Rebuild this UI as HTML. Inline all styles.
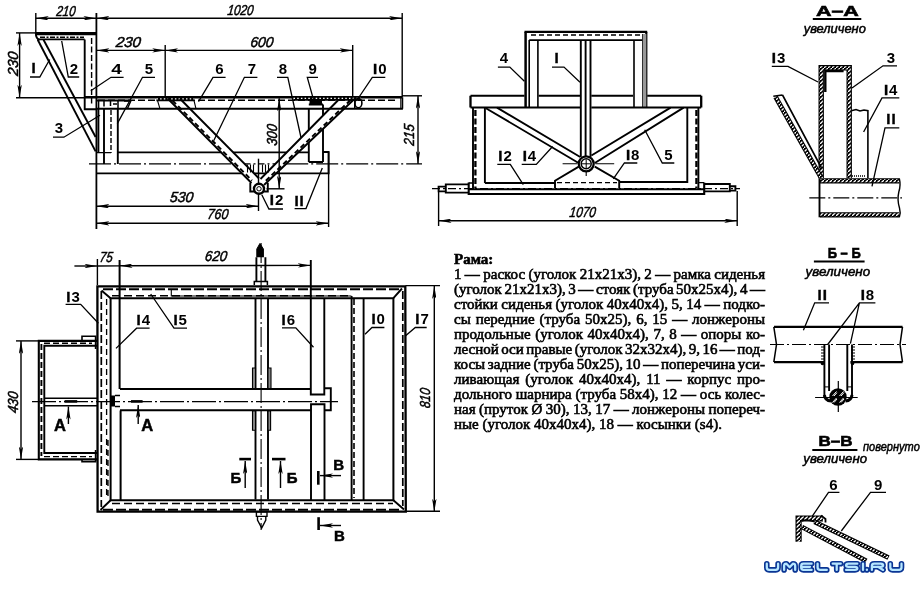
<!DOCTYPE html>
<html><head><meta charset="utf-8">
<style>
html,body{margin:0;padding:0;background:#fff;}
body{width:923px;height:595px;overflow:hidden;position:relative;}
svg{position:absolute;left:0;top:0;will-change:transform;}
#txt{will-change:transform;}
.dim{font-family:"Liberation Sans",sans-serif;font-style:italic;font-size:14.5px;stroke:#000;stroke-width:0.5px;}
.it{font-family:"Liberation Sans",sans-serif;font-style:italic;stroke:#000;stroke-width:0.5px;}
.lb{font-family:"Liberation Sans",sans-serif;font-weight:bold;font-size:15px;}
.sec{font-size:16.5px;stroke:#000;stroke-width:0.5px;}
.sec2{font-size:15px;stroke:#000;stroke-width:0.5px;}
.hd{stroke:#000;stroke-width:0.6px;}
.one{font-family:"Liberation Sans",sans-serif;font-weight:bold;letter-spacing:1px;stroke:#000;stroke-width:0.4px;}
#txt{position:absolute;left:454px;top:251.6px;-webkit-text-stroke:0.6px #000;width:311px;font-family:"Liberation Serif",serif;font-size:15px;line-height:15px;color:#000;}
#txt div{white-space:nowrap;}
</style></head><body>
<svg width="923" height="595" viewBox="0 0 923 595">
<defs>
<pattern id="hw" patternUnits="userSpaceOnUse" width="4" height="4"><path d="M-1,5 L5,-1" stroke="#fff" stroke-width="1.3"/></pattern>
<marker id="a" viewBox="0 0 13 4.4" refX="13" refY="2.2" markerWidth="13" markerHeight="4.4" orient="auto-start-reverse" markerUnits="userSpaceOnUse"><path d="M0,0 L13,2.2 L0,4.4 L3,2.2 z"/></marker>
</defs>
<g fill="none" stroke="#000" stroke-linecap="butt">
<g id="side">
<line x1="35.8" y1="18.2" x2="96.4" y2="18.2" stroke-width="1.4" marker-start="url(#a)" marker-end="url(#a)"/>
<line x1="96.4" y1="18.2" x2="402" y2="18.2" stroke-width="1.4" marker-start="url(#a)" marker-end="url(#a)"/>
<line x1="35.8" y1="13" x2="35.8" y2="33" stroke-width="1.4"/>
<line x1="402.2" y1="13" x2="402.2" y2="97" stroke-width="1.4"/>
<line x1="96.4" y1="50.4" x2="165.2" y2="50.4" stroke-width="1.4" marker-start="url(#a)" marker-end="url(#a)"/>
<line x1="165.2" y1="50.4" x2="352.7" y2="50.4" stroke-width="1.4" marker-start="url(#a)" marker-end="url(#a)"/>
<line x1="165.2" y1="45" x2="165.2" y2="97" stroke-width="1.4"/>
<line x1="352.7" y1="45" x2="352.7" y2="97" stroke-width="1.4"/>
<line x1="19.6" y1="33" x2="19.6" y2="97.8" stroke-width="1.4" marker-start="url(#a)" marker-end="url(#a)"/>
<line x1="16" y1="32.9" x2="36" y2="32.9" stroke-width="1.4"/>
<line x1="16" y1="97.8" x2="85" y2="97.8" stroke-width="1.4"/>
<line x1="402" y1="95.8" x2="422" y2="95.8" stroke-width="1.4"/>
<line x1="418" y1="95.8" x2="418" y2="163.9" stroke-width="1.4" marker-start="url(#a)" marker-end="url(#a)"/>
<line x1="279.2" y1="98.3" x2="279.2" y2="188.8" stroke-width="1.4" marker-start="url(#a)" marker-end="url(#a)"/>
<line x1="266.5" y1="188.8" x2="284.5" y2="188.8" stroke-width="1.4"/>
<line x1="96.4" y1="206.2" x2="258.5" y2="206.2" stroke-width="1.4" marker-start="url(#a)" marker-end="url(#a)"/>
<line x1="258.5" y1="158.7" x2="258.5" y2="211" stroke-width="1.4"/>
<line x1="96.4" y1="223.3" x2="328.6" y2="223.3" stroke-width="1.4" marker-start="url(#a)" marker-end="url(#a)"/>
<line x1="328.6" y1="152" x2="328.6" y2="227" stroke-width="1.4"/>
<line x1="89" y1="163.9" x2="232.6" y2="163.9" stroke-width="1.1" stroke-dasharray="22 3 2 3"/>
<line x1="244.5" y1="163.9" x2="275.4" y2="163.9" stroke-width="1.1" stroke-dasharray="6 3 2 3"/>
<line x1="286.2" y1="163.9" x2="422" y2="163.9" stroke-width="1.1" stroke-dasharray="22 3 2 3"/>
<line x1="96.4" y1="13" x2="96.4" y2="229" stroke-width="1.8"/>
<path d="M35.8,33.6 H96" stroke-width="3.2"/>
<path d="M37.5,39.4 H84.7" stroke-width="1.9"/>
<path d="M40,37.3 H84" stroke-width="1.4" stroke-dasharray="5 1.5 2 1.5"/>
<path d="M35.8,33.1 Q35.8,38.6 39.5,40" stroke-width="1.9"/>
<path d="M84.7,39.4 V109.3 H96" stroke-width="1.9"/>
<path d="M91.6,38 V106" stroke-width="1.4" stroke-dasharray="6 2.5"/>
<path d="M37.7,39.8 L95.6,151.4" stroke-width="1.9"/>
<path d="M43.5,39.8 L95.6,137" stroke-width="1.9"/>
<path d="M84.7,97.3 H402.4" stroke-width="2.4"/>
<path d="M96,108.8 H402.9" stroke-width="1.9"/>
<path d="M98,100.2 H398" stroke-width="1.5" stroke-dasharray="7 3"/>
<path d="M400.9,97.3 V108.8 M402.6,97.3 V108.8" stroke-width="1.3"/>
<path d="M98.4,109 V153 M104,109 V164 M117.8,109 V164" stroke-width="1.9"/>
<path d="M111,110 V153" stroke-width="1.4" stroke-dasharray="5 2"/>
<path d="M96,152.7 H104 M104.5,152.7 H111" stroke-width="1.3"/>
<path d="M117.8,152.4 H221.2 M233.2,152.4 H286.7 M298.3,152.4 H308.8" stroke-width="1.9"/>
<path d="M96.4,173.4 H242 M254,173.4 H266 M276.2,173.4 H328.6 V152 H323" stroke-width="1.9"/>
<path d="M308.8,109 V130 M308.8,142.4 V162 M323,104.5 V115.5 M323,128.9 V162 M308.8,162 H323 M308.8,104.5 H323" stroke-width="1.9"/>
<rect x="309.5" y="98.5" width="12.5" height="6" fill="#000" stroke="none"/>
<path d="M156.4,98.9 H194.1 M293.5,98.4 H361" stroke-width="4.6"/>
<path d="M156.4,98.9 H194.1 M293.5,98.4 H361" stroke="#fff" stroke-width="1.2" stroke-dasharray="1.5 2.2"/>
<path d="M97,100.4 H130" stroke-width="2"/>
<path d="M98.6,100 V108.5 M104,101 V106.5 M110.5,100.5 V106 M113,104 H117 M118,100.5 V108.5 M124,101 H131 M131,100.5 L127.5,108.5" stroke-width="1.5"/>
<path d="M167.7,98.5 L251.5,183 M179.8,98.5 L259,178.5" stroke-width="1.9"/>
<path d="M172.5,100.5 L252,180.5" stroke-width="1.9" stroke-dasharray="5 3"/>
<path d="M338.8,99.5 L260.5,179 M355.2,98.3 L264,185" stroke-width="1.9"/>
<path d="M350.5,100 L264,182.5" stroke-width="1.9" stroke-dasharray="5 3"/>
<path d="M157.5,100.5 L160,108.8 M194,100.5 L196,108.8" stroke-width="1.1"/>
<path d="M247.5,164.5 V172.5 M250.5,164.5 V172.5 M253.5,164.5 V172.5 M262.5,164.5 V172.5 M265.5,164.5 V172.5 M268.5,164.5 V172.5" stroke-width="1.1"/>
<path d="M250.3,182.8 V191.5 H267.8 V182.8" stroke-width="1.9"/>
<circle cx="259" cy="188.8" r="5" fill="#fff" stroke-width="2.4"/>
<circle cx="259" cy="188.8" r="2.2" stroke-width="1"/>
<path d="M354.8,97.7 V108" stroke-width="1.6"/>
<ellipse cx="358.4" cy="103" rx="3.5" ry="4.8" stroke-width="1.6"/>
<path d="M30,77 H39.8 L49.7,59.5" stroke-width="1.3"/>
<path d="M79.2,77 H68.3 L61.7,41" stroke-width="1.3"/>
<path d="M123.6,77.3 H111 L90.8,90.8" stroke-width="1.3"/>
<path d="M155,77.3 H142.5 L117.3,123.6" stroke-width="1.3"/>
<path d="M225.6,77.3 H213 L198.5,101.6" stroke-width="1.3"/>
<path d="M257.4,77.3 H244.4 L213.7,140.7" stroke-width="1.3"/>
<path d="M277,77.3 H287.8 L301,137.5" stroke-width="1.3"/>
<path d="M318,77.3 H307.3 L313.5,99.6" stroke-width="1.3"/>
<path d="M385.3,77.3 H372.3 L356.4,101" stroke-width="1.3"/>
<path d="M53,137.2 H63.9 L100,115.3" stroke-width="1.3"/>
<path d="M283,209 H268.9 L261.8,194.8" stroke-width="1.3"/>
<path d="M294.6,208.6 H306 L322.3,168" stroke-width="1.3"/>
</g>
<g id="front">
<path d="M524.5,31.9 H647.2" stroke-width="2.3"/>
<path d="M531,34.9 H641" stroke-width="1.5" stroke-dasharray="5 3"/>
<path d="M529.2,40.1 H642.2" stroke-width="1.9"/>
<path d="M525.6,31.9 V107.3" stroke-width="2.5"/>
<path d="M529.2,40.1 V107.3 M537.9,40.1 V107.3" stroke-width="1.6"/>
<path d="M634,40.1 V107.3 M643,34 V107.3" stroke-width="1.6"/>
<path d="M646.3,31.9 V107.3" stroke-width="2.2"/>
<rect x="643" y="34" width="3.3" height="73" fill="#999" stroke="none"/>
<path d="M580.8,40.1 V157 M585.6,40.1 V156 M590.5,40.1 V157" stroke-width="1.9"/>
<path d="M470.5,95.8 H524.5 M538.6,95.8 H580 M591.3,95.8 H633 M647.2,95.8 H701.2" stroke-width="2"/>
<path d="M470.5,107.5 H580 M591.3,107.5 H701.2" stroke-width="2"/>
<path d="M470.5,95.8 V107.5 M701.2,95.8 V107.5" stroke-width="2.3"/>
<path d="M473,107.6 V189 M484.9,107.6 V183 M687.3,107.6 V183 M698.4,107.6 V189" stroke-width="1.9"/>
<path d="M475.4,110 V188 M696.4,110 V188" stroke-width="2.3" stroke-dasharray="6 2.5"/>
<path d="M497,107.6 L580.2,157 M485.9,108.2 L578.6,163" stroke-width="1.9"/>
<path d="M670.6,107.6 L591.4,155.5 M683.6,107.6 L594.8,163" stroke-width="1.9"/>
<path d="M555,188 V180.8 L578.8,166.6 M594.8,166.6 L619.2,180.8 V188" stroke-width="1.9"/>
<path d="M557,182.6 H617" stroke-width="1.3" stroke-dasharray="5 3"/>
<path d="M562.6,163.8 H577 M595.5,163.8 H614.2 M586.2,172 V176" stroke-width="1.1"/>
<circle cx="586.2" cy="163.8" r="7.5" fill="#fff" stroke-width="2.3"/>
<circle cx="586.2" cy="163.8" r="5" stroke-width="1.5"/>
<path d="M582,163.8 H590.4 M586.2,159.6 V168" stroke-width="1"/>
<path d="M484.9,183 H555 M619.2,182 H687.3" stroke-width="1.9"/>
<path d="M468.7,183 H473 M698.4,182.6 H704" stroke-width="1.4"/>
<path d="M468.7,182.6 V194 H704.2 V182.6" stroke-width="2.1"/>
<path d="M468.7,189.2 H704.2" stroke-width="1.9"/>
<path d="M468.2,184.4 H445.8 V192.6 H468.2 M445.8,186.6 H438.6 V191.4 H445.8" stroke-width="1.9"/>
<path d="M704.2,184 H729.8 V191.4 H704.2 M729.8,186.2 H735.4 V190.6 H729.8" stroke-width="1.9"/>
<line x1="432" y1="188.6" x2="740" y2="188.6" stroke-width="1.1" stroke-dasharray="8 3 2 3"/>
<line x1="438.6" y1="220.8" x2="737.2" y2="220.8" stroke-width="1.4" marker-start="url(#a)" marker-end="url(#a)"/>
<line x1="438.6" y1="192" x2="438.6" y2="226" stroke-width="1.4"/>
<line x1="737.2" y1="191" x2="737.2" y2="226" stroke-width="1.4"/>
<path d="M497.9,67.1 H509.8 L524.4,81.2" stroke-width="1.3"/>
<path d="M552,67.1 H564 L580,82.3" stroke-width="1.3"/>
<path d="M497.3,164.4 H510.3 L523.3,184.7" stroke-width="1.3"/>
<path d="M521.7,164.4 H536.3 L552.6,146.5" stroke-width="1.3"/>
<path d="M637.3,163 H624.4 L613.3,178.8" stroke-width="1.3"/>
<path d="M674.3,163 H662.3 L644.7,129.8" stroke-width="1.3"/>
</g>
<g id="plan">
<path d="M97.4,286.3 H405.3 L405.8,511.6 H97.6 Z" stroke-width="2.3"/>
<path d="M103,289.2 H401 M103,509.8 H402" stroke-width="1.9" stroke-dasharray="10 3"/>
<path d="M101.3,291 V507 M402.8,291 V506" stroke-width="1.7" stroke-dasharray="8 3"/>
<path d="M106.6,299 V497 M108,440 V497" stroke-width="1.3" stroke-dasharray="6 4"/>
<path d="M112,295.7 H351 M112,503.5 H393" stroke-width="1.4" stroke-dasharray="8 4"/>
<path d="M171.3,289.8 V296 H351.4" stroke-width="1.1"/>
<path d="M110.6,298.2 H393.4 V500.3 H110.6 Z" stroke-width="2"/>
<path d="M101.5,290.5 L110.6,298.2 M393.4,298.2 L402,288.5 M393.4,500.3 L404,509.5 M110.6,500.3 L100.5,510" stroke-width="1.9"/>
<path d="M119.6,260 V389 M120.6,410.4 V500.3" stroke-width="2"/>
<path d="M310.8,260 V394.5 H324.3 V298 M311,500.3 V404.2 H324.5 V500.3" stroke-width="1.9"/>
<path d="M351.6,296 V500 M363.6,298 V500" stroke-width="1.9"/>
<path d="M354,299 V498" stroke-width="1.6" stroke-dasharray="6 3"/>
<path d="M120,389 H311 M120,410.3 H311" stroke-width="2"/>
<path d="M324.3,388.2 H330.8 V410.2 H324.3" stroke-width="1.9"/>
<rect x="111" y="395.5" width="4" height="11" fill="#000" stroke="none"/>
<path d="M115,395.5 H120 M115,406.5 H120" stroke-width="1.4"/>
<line x1="32" y1="401.6" x2="338" y2="401.6" stroke-width="1.1" stroke-dasharray="24 3 2 3"/>
<path d="M97.4,340.9 H38.8 V459.4 H97.4" stroke-width="2.1"/>
<path d="M97.4,345.7 H44.3 V453 H97.4" stroke-width="1.9"/>
<path d="M41.4,344 V456" stroke-width="1.9" stroke-dasharray="6 3"/>
<path d="M44,343.2 H92 M44,456.6 H92" stroke-width="1.4" stroke-dasharray="6 3"/>
<path d="M82,340.9 V336.2 H95.6 V349 M82,459.4 V461.8 H95.6 V450" stroke-width="1.6"/>
<path d="M44.3,398.2 H97.4 M44.3,405.8 H97.4" stroke-width="1.6"/>
<path d="M256.4,257.2 V281.4 M265.4,257.2 V281.4" stroke-width="1.9"/>
<path d="M254.3,284.9 V281.4 H267.4 V284.9" stroke-width="1.5"/>
<path d="M256.8,257.2 V249 L259.9,243.5 L263.4,249 V257.2" fill="#000" stroke-width="1"/>
<path d="M255.5,298.2 V389 M268,298.2 V389 M255.5,410.3 V499.5 M268,410.3 V499.5" stroke-width="1.9"/>
<line x1="261.1" y1="243" x2="261.1" y2="530" stroke-width="1.1" stroke-dasharray="20 3 2 3"/>
<path d="M252.5,368 H255.5 V388.6 H252.5 Z M268,368 H271 V388.6 H268 Z M252.5,411 H255.5 V430.2 H252.5 Z M268,411 H270.6 V430.2 H268 Z" fill="#888" stroke-width="1.1"/>
<path d="M256.4,511.8 H267 V516.4 H256.4 Z M257.5,516.4 V520 L261.7,528 L265.8,520 V516.4" stroke-width="1.4"/>
<line x1="74.4" y1="266" x2="97.4" y2="266" stroke-width="1.4" marker-end="url(#a)"/>
<line x1="97.4" y1="266" x2="119.6" y2="265.9" stroke-width="1.4"/>
<line x1="119.6" y1="265.8" x2="310.8" y2="265.4" stroke-width="1.4" marker-start="url(#a)" marker-end="url(#a)"/>
<line x1="97.4" y1="259" x2="97.4" y2="285" stroke-width="1.4"/>
<line x1="21" y1="340.9" x2="21" y2="459.4" stroke-width="1.4" marker-start="url(#a)" marker-end="url(#a)"/>
<line x1="16" y1="340.9" x2="38.8" y2="340.9" stroke-width="1.4"/>
<line x1="16" y1="459.4" x2="38.8" y2="459.4" stroke-width="1.4"/>
<line x1="434.3" y1="285.9" x2="434.3" y2="511.8" stroke-width="1.4" marker-start="url(#a)" marker-end="url(#a)"/>
<line x1="405.5" y1="285.6" x2="440" y2="285.6" stroke-width="1.4"/>
<line x1="405.5" y1="511.3" x2="440" y2="511.3" stroke-width="1.4"/>
<line x1="68.4" y1="424" x2="68.4" y2="406.5" stroke-width="1.4" marker-end="url(#a)"/>
<line x1="138.2" y1="424" x2="138.2" y2="405" stroke-width="1.4" marker-end="url(#a)"/>
<line x1="245.2" y1="488" x2="245.2" y2="461" stroke-width="1.4" marker-end="url(#a)"/>
<line x1="280.5" y1="488" x2="280.5" y2="461" stroke-width="1.4" marker-end="url(#a)"/>
<line x1="341" y1="475.6" x2="320" y2="475.6" stroke-width="1.4" marker-end="url(#a)"/>
<line x1="341" y1="525.5" x2="320" y2="525.5" stroke-width="1.4" marker-end="url(#a)"/>
<line x1="64.6" y1="401.4" x2="77.2" y2="401.4" stroke-width="2.6"/>
<line x1="131" y1="401.4" x2="142.6" y2="401.4" stroke-width="2.6"/>
<line x1="239.3" y1="459.1" x2="251" y2="459.1" stroke-width="2.6"/>
<line x1="272" y1="459.1" x2="285.5" y2="459.1" stroke-width="2.6"/>
<line x1="318.3" y1="471" x2="318.3" y2="484.7" stroke-width="2.6"/>
<line x1="318.6" y1="517.2" x2="318.6" y2="530" stroke-width="2.6"/>
<path d="M65.6,304.3 H80.7 L98.4,323.2" stroke-width="1.3"/>
<path d="M149.6,328.2 H136.6 L116,348.4" stroke-width="1.3"/>
<path d="M187,328.2 H174 L150.7,294" stroke-width="1.3"/>
<path d="M282,327.8 H295.8 L313.5,347.2" stroke-width="1.3"/>
<path d="M384.4,327.5 H372 L365,334.2" stroke-width="1.3"/>
<path d="M426.7,327.5 H415.3 L405,336.3" stroke-width="1.3"/>
</g>
<g id="sections">
<line x1="812.8" y1="19" x2="861.3" y2="19" stroke-width="1.8"/>
<path d="M821.2,177.9 V67.8 H849.2 V177.9" stroke-width="5.4"/>
<path d="M821.2,177.9 V67.8 H849.2 V177.9" stroke="url(#hw)" stroke-width="3.2"/>
<path d="M825.3,92 V71 H843.6" stroke-width="2.4"/>
<path d="M851.3,110.7 L856,109.5 L860,111 L864,110 L867.9,110.7 V177.9" stroke-width="1.6"/>
<path d="M852,176 H866" stroke-width="1.5" stroke-dasharray="1 1"/>
<path d="M820,180.8 H899.3 M820,214.8 H899.3" stroke-width="5.2"/>
<path d="M820,180.8 H899.3 M820,214.8 H899.3" stroke="url(#hw)" stroke-width="3.0"/>
<path d="M819.5,178.3 V217.3" stroke-width="1.9"/>
<path d="M899.3,178.3 Q901,185 898.8,192 Q897,200 899.5,208 Q901,213 899.3,217.3" stroke-width="1.4"/>
<line x1="809.3" y1="197.9" x2="902" y2="197.9" stroke-width="1.1" stroke-dasharray="16 3 2 3"/>
<path d="M775.6,97 L821,177.5" stroke-width="4.8"/>
<path d="M775.6,97 L821,177.5" stroke="url(#hw)" stroke-width="2.5999999999999996"/>
<path d="M773.3,96.2 L782.5,95 M782.5,95 L821.5,168" stroke-width="1.6"/>
<path d="M771.8,66.3 H788 L818,82" stroke-width="1.3"/>
<path d="M897,65.8 H883 L852,88" stroke-width="1.3"/>
<path d="M899.3,97.9 H882 L863.6,132" stroke-width="1.3"/>
<path d="M899.3,127.9 H885 L872,186.4" stroke-width="1.3"/>
<line x1="813.9" y1="261.5" x2="864.6" y2="261.5" stroke-width="1.8"/>
<path d="M774,326.8 H902.5 M774,362.1 H824.4 M850.4,362.1 H902.5" stroke-width="2.2"/>
<path d="M773.8,326.8 L776.5,344.5 L773.8,362.1 M902.5,326.8 L900,344.5 L902.5,362.1" stroke-width="1.5"/>
<line x1="770" y1="344.5" x2="906" y2="344.5" stroke-width="1.1" stroke-dasharray="14 3 2 3"/>
<path d="M824.4,344.5 V397 M829.1,344.5 V391 M847.3,344.5 V391 M852,344.5 V397" stroke-width="1.9"/>
<path d="M824.4,386.9 H829.1 M847.3,386.9 H852" stroke-width="1"/>
<path d="M821,347 H824 M821,350 H824 M821,353 H824 M821,356 H824 M821,359 H824 M851,347 H855 M851,350 H855 M851,353 H855 M851,356 H855 M851,359 H855" stroke-width="1.1"/>
<circle cx="822.5" cy="363.5" r="1.8" fill="#000" stroke="none"/>
<circle cx="852.5" cy="363.5" r="1.8" fill="#000" stroke="none"/>
<path d="M824.4,395 Q825,400.5 831,401 M852,395 Q851.4,400.5 845.5,401" stroke-width="3"/>
<circle cx="838" cy="397" r="8.7" fill="#000" stroke="none"/>
<path d="M832.5,396 L836.5,391.5 M834,396 L837,392.6 M839.5,396 L843.5,391.5 M841,396 L844,392.6 M832.5,402.5 L836.5,398 M834,402.5 L837,399 M839.5,402.5 L843.5,398 M841,402.5 L844,399" stroke-width="1" stroke="#fff"/>
<path d="M815.1,397.5 H857.7 M838.3,381 V412" stroke-width="1.2"/>
<path d="M829,302.8 H814.7 L803.4,330.2" stroke-width="1.3"/>
<path d="M875.4,302.8 H859.4 L827.7,344.5 M859.4,302.8 L850.4,343.6" stroke-width="1.3"/>
<line x1="812.3" y1="450" x2="857.4" y2="450" stroke-width="1.8"/>
<path d="M798.6,541.7 V518.5 H823" stroke-width="6.2" stroke-linejoin="miter"/>
<path d="M798.6,541.7 V518.5 H823" stroke="url(#hw)" stroke-width="4.0" stroke-linejoin="miter"/>
<path d="M821,515.5 L825.5,519 V522.5" stroke-width="1.8"/>
<path d="M814.5,521.8 L888.5,557.6" stroke-width="4.8"/>
<path d="M814.5,521.8 L888.5,557.6" stroke="url(#hw)" stroke-width="2.5999999999999996"/>
<path d="M802,527 L866.3,560.8" stroke-width="4.8"/>
<path d="M802,527 L866.3,560.8" stroke="url(#hw)" stroke-width="2.5999999999999996"/>
<path d="M801.9,521 Q806,518.5 814.5,521.8" stroke-width="1.5"/>
<path d="M839.4,492.3 H828.5 L812,516.7" stroke-width="1.3"/>
<path d="M886,492.3 H870.5 L841.3,531" stroke-width="1.3"/>
</g>
</g>
<g fill="#000">
<text class="dim" transform="translate(66.1,16) translate(0,-5) skewX(-7) translate(0,5)" x="0" y="0" text-anchor="middle" textLength="19" lengthAdjust="spacingAndGlyphs">210</text>
<text class="dim" transform="translate(240.6,14.8) translate(0,-5) skewX(-7) translate(0,5)" x="0" y="0" text-anchor="middle" textLength="26" lengthAdjust="spacingAndGlyphs">1020</text>
<text class="dim" transform="translate(128.5,47.2) translate(0,-5) skewX(-7) translate(0,5)" x="0" y="0" text-anchor="middle" textLength="25" lengthAdjust="spacingAndGlyphs">230</text>
<text class="dim" transform="translate(262,46.8) translate(0,-5) skewX(-7) translate(0,5)" x="0" y="0" text-anchor="middle" textLength="23" lengthAdjust="spacingAndGlyphs">600</text>
<text class="dim" transform="translate(17.6,63.7) rotate(-90) translate(-4.5,-5) skewX(-7) translate(4.5,5)" text-anchor="middle" textLength="24" lengthAdjust="spacingAndGlyphs">230</text>
<text class="dim" transform="translate(414.4,134.7) rotate(-90) translate(-4.5,-5) skewX(-7) translate(4.5,5)" text-anchor="middle" textLength="21.4" lengthAdjust="spacingAndGlyphs">215</text>
<text class="dim" transform="translate(276.9,134.8) rotate(-90) translate(-4.5,-5) skewX(-7) translate(4.5,5)" text-anchor="middle" textLength="21.3" lengthAdjust="spacingAndGlyphs">300</text>
<text class="dim" transform="translate(181.7,202) translate(0,-5) skewX(-7) translate(0,5)" x="0" y="0" text-anchor="middle" textLength="23.4" lengthAdjust="spacingAndGlyphs">530</text>
<text class="dim" transform="translate(218.1,219.3) translate(0,-5) skewX(-7) translate(0,5)" x="0" y="0" text-anchor="middle" textLength="20.8" lengthAdjust="spacingAndGlyphs">760</text>
<text class="lb" x="34" y="73.2" text-anchor="middle"><tspan class="one">I</tspan></text>
<text class="lb" x="73.8" y="74.2" text-anchor="middle">2</text>
<text class="lb" x="148.8" y="74.2" text-anchor="middle">5</text>
<text class="lb" x="219.5" y="73.6" text-anchor="middle">6</text>
<text class="lb" x="252" y="73.6" text-anchor="middle">7</text>
<text class="lb" x="282.8" y="73.6" text-anchor="middle">8</text>
<text class="lb" x="312.6" y="73.6" text-anchor="middle">9</text>
<text class="lb" x="379.8" y="73.6" text-anchor="middle"><tspan class="one">I</tspan>0</text>
<text class="lb" x="59" y="132.8" text-anchor="middle">3</text>
<text class="lb" x="276.5" y="205.3" text-anchor="middle"><tspan class="one">I</tspan>2</text>
<text class="lb" x="299.6" y="205.6" text-anchor="middle"><tspan class="one">I</tspan><tspan class="one">I</tspan></text>
<text class="lb" x="116.6" y="74" text-anchor="middle" textLength="10.5" lengthAdjust="spacingAndGlyphs">4</text>
<text class="dim" transform="translate(582.8,216.5) translate(0,-5) skewX(-7) translate(0,5)" x="0" y="0" text-anchor="middle" textLength="26.2" lengthAdjust="spacingAndGlyphs">1070</text>
<text class="lb" x="503.8" y="63.3" text-anchor="middle">4</text>
<text class="lb" x="557.2" y="63.3" text-anchor="middle"><tspan class="one">I</tspan></text>
<text class="lb" x="505" y="161.1" text-anchor="middle"><tspan class="one">I</tspan>2</text>
<text class="lb" x="529.4" y="161.1" text-anchor="middle"><tspan class="one">I</tspan>4</text>
<text class="lb" x="632.7" y="160.3" text-anchor="middle"><tspan class="one">I</tspan>8</text>
<text class="lb" x="668.3" y="160.3" text-anchor="middle">5</text>
<text class="dim" transform="translate(106.4,262.2) translate(0,-5) skewX(-7) translate(0,5)" x="0" y="0" text-anchor="middle" textLength="13" lengthAdjust="spacingAndGlyphs">75</text>
<text class="dim" transform="translate(216.2,261.4) translate(0,-5) skewX(-7) translate(0,5)" x="0" y="0" text-anchor="middle" textLength="22" lengthAdjust="spacingAndGlyphs">620</text>
<text class="dim" transform="translate(17.6,402.2) rotate(-90) translate(-4.5,-5) skewX(-7) translate(4.5,5)" text-anchor="middle" textLength="21.5" lengthAdjust="spacingAndGlyphs">430</text>
<text class="dim" transform="translate(429.5,398) rotate(-90) translate(-4.5,-5) skewX(-7) translate(4.5,5)" text-anchor="middle" textLength="20" lengthAdjust="spacingAndGlyphs">810</text>
<text class="lb" x="73.1" y="301.8" text-anchor="middle"><tspan class="one">I</tspan>3</text>
<text class="lb" x="143.3" y="325" text-anchor="middle"><tspan class="one">I</tspan>4</text>
<text class="lb" x="180.2" y="325" text-anchor="middle"><tspan class="one">I</tspan>5</text>
<text class="lb" x="288.3" y="324.8" text-anchor="middle"><tspan class="one">I</tspan>6</text>
<text class="lb" x="378.2" y="323.9" text-anchor="middle"><tspan class="one">I</tspan>0</text>
<text class="lb" x="422" y="323.9" text-anchor="middle"><tspan class="one">I</tspan>7</text>
<text class="lb sec" x="59.9" y="431.4" text-anchor="middle">А</text>
<text class="lb sec" x="147.2" y="431.4" text-anchor="middle">А</text>
<text class="lb sec2" x="235.9" y="483.2" text-anchor="middle">Б</text>
<text class="lb sec2" x="292.2" y="483.2" text-anchor="middle">Б</text>
<text class="lb sec2" x="338.6" y="470.3" text-anchor="middle">В</text>
<text class="lb sec2" x="339.4" y="541.4" text-anchor="middle">В</text>
<text class="lb hd" x="837.4" y="15.9" text-anchor="middle" textLength="43" lengthAdjust="spacingAndGlyphs">А–А</text>
<text class="lb" x="778.6" y="62.9" text-anchor="middle"><tspan class="one">I</tspan>3</text>
<text class="lb" x="890.8" y="62.9" text-anchor="middle">3</text>
<text class="lb" x="890.7" y="95" text-anchor="middle"><tspan class="one">I</tspan>4</text>
<text class="lb" x="891.4" y="123.6" text-anchor="middle"><tspan class="one">I</tspan><tspan class="one">I</tspan></text>
<text class="lb hd" x="844.2" y="258.2" text-anchor="middle" textLength="33" lengthAdjust="spacingAndGlyphs">Б – Б</text>
<text class="lb" x="822.7" y="300.4" text-anchor="middle"><tspan class="one">I</tspan><tspan class="one">I</tspan></text>
<text class="lb" x="867.4" y="300.4" text-anchor="middle"><tspan class="one">I</tspan>8</text>
<text class="lb hd" x="835.6" y="445.8" text-anchor="middle" textLength="34" lengthAdjust="spacingAndGlyphs">В–В</text>
<text class="lb" x="833.4" y="489.8" text-anchor="middle">6</text>
<text class="lb" x="878.2" y="489.8" text-anchor="middle">9</text>
<text class="it" x="834.8" y="33.4" text-anchor="middle" textLength="62.2" lengthAdjust="spacingAndGlyphs" font-size="12.5">увеличено</text>
<text class="it" x="837.9" y="276.4" text-anchor="middle" textLength="64.6" lengthAdjust="spacingAndGlyphs" font-size="12.5">увеличено</text>
<text class="it" x="835.2" y="463.1" text-anchor="middle" textLength="63.8" lengthAdjust="spacingAndGlyphs" font-size="12.5">увеличено</text>
<text class="it" x="891.4" y="450.7" text-anchor="middle" textLength="56.8" lengthAdjust="spacingAndGlyphs" font-size="12.5">повернуто</text>
</g>
<g fill="none" stroke-linecap="round" stroke-linejoin="round">
 <path d="M766.8,563.7 V567.6 Q766.8,569.9 769.1,569.9 H775.8 Q778.1,569.9 778.1,567.6 V563.7 M784.1,569.9 V566 Q784.1,563.7 786.4,563.7 L789.65,567.2 L792.9,563.7 Q795.2,563.7 795.2,566 V569.9 M811.6,563.7 H803.5 Q801.2,563.7 801.2,566 V567.6 Q801.2,569.9 803.5,569.9 H811.6 M801.2,566.8 H810 M817.6,563.7 V567.6 Q817.6,569.9 819.9,569.9 H826.8 M832.7,563.7 H840.7 M836.7,563.7 V569.9 M857.3,563.7 H848.4 Q846.1,563.7 846.1,565.25 Q846.1,566.8 848.4,566.8 H855 Q857.3,566.8 857.3,568.35 Q857.3,569.9 855,569.9 H846.1 M863,563.7 V569.9 M866.9,569.6 V569.9 M871.9,569.9 V566 Q871.9,563.7 874.2,563.7 H880.8 Q883.1,563.7 883.1,565.25 Q883.1,566.8 880.8,566.8 H871.9 M878,566.8 L883.1,569.9 M890.3,563.7 V567.6 Q890.3,569.9 892.6,569.9 H899.2 Q901.5,569.9 901.5,567.6 V563.7" stroke="#0a3594" stroke-width="5.6"/>
 <path d="M766.8,563.7 V567.6 Q766.8,569.9 769.1,569.9 H775.8 Q778.1,569.9 778.1,567.6 V563.7 M784.1,569.9 V566 Q784.1,563.7 786.4,563.7 L789.65,567.2 L792.9,563.7 Q795.2,563.7 795.2,566 V569.9 M811.6,563.7 H803.5 Q801.2,563.7 801.2,566 V567.6 Q801.2,569.9 803.5,569.9 H811.6 M801.2,566.8 H810 M817.6,563.7 V567.6 Q817.6,569.9 819.9,569.9 H826.8 M832.7,563.7 H840.7 M836.7,563.7 V569.9 M857.3,563.7 H848.4 Q846.1,563.7 846.1,565.25 Q846.1,566.8 848.4,566.8 H855 Q857.3,566.8 857.3,568.35 Q857.3,569.9 855,569.9 H846.1 M863,563.7 V569.9 M866.9,569.6 V569.9 M871.9,569.9 V566 Q871.9,563.7 874.2,563.7 H880.8 Q883.1,563.7 883.1,565.25 Q883.1,566.8 880.8,566.8 H871.9 M878,566.8 L883.1,569.9 M890.3,563.7 V567.6 Q890.3,569.9 892.6,569.9 H899.2 Q901.5,569.9 901.5,567.6 V563.7" stroke="#b6e6ff" stroke-width="2.3"/>
</g>
</svg>
<div id="txt">
<div style="font-weight:bold">Рама:</div>
<div style="word-spacing:-0.38px">1 — раскос (уголок 21х21х3), 2 — рамка сиденья</div>
<div style="word-spacing:-1.17px">(уголок 21х21х3), 3 — стояк (труба 50х25х4), 4 —</div>
<div style="word-spacing:-0.28px">стойки сиденья (уголок 40х40х4), 5, 14 — подко-</div>
<div style="word-spacing:1.14px">сы передние (труба 50х25), 6, 15 — лонжероны</div>
<div style="word-spacing:0.81px">продольные (уголок 40х40х4), 7, 8 — опоры ко-</div>
<div style="word-spacing:-1.29px">лесной оси правые (уголок 32х32х4), 9, 16 — под-</div>
<div style="word-spacing:-1.09px">косы задние (труба 50х25), 10 — поперечина уси-</div>
<div style="word-spacing:2.14px">ливающая (уголок 40х40х4), 11 — корпус про-</div>
<div style="word-spacing:0.00px">дольного шарнира (труба 58х4), 12 — ось колес-</div>
<div style="word-spacing:-0.29px">ная (пруток Ø 30), 13, 17 — лонжероны попереч-</div>
<div>ные (уголок 40х40х4), 18 — косынки (s4).</div>
</div>
</body></html>
